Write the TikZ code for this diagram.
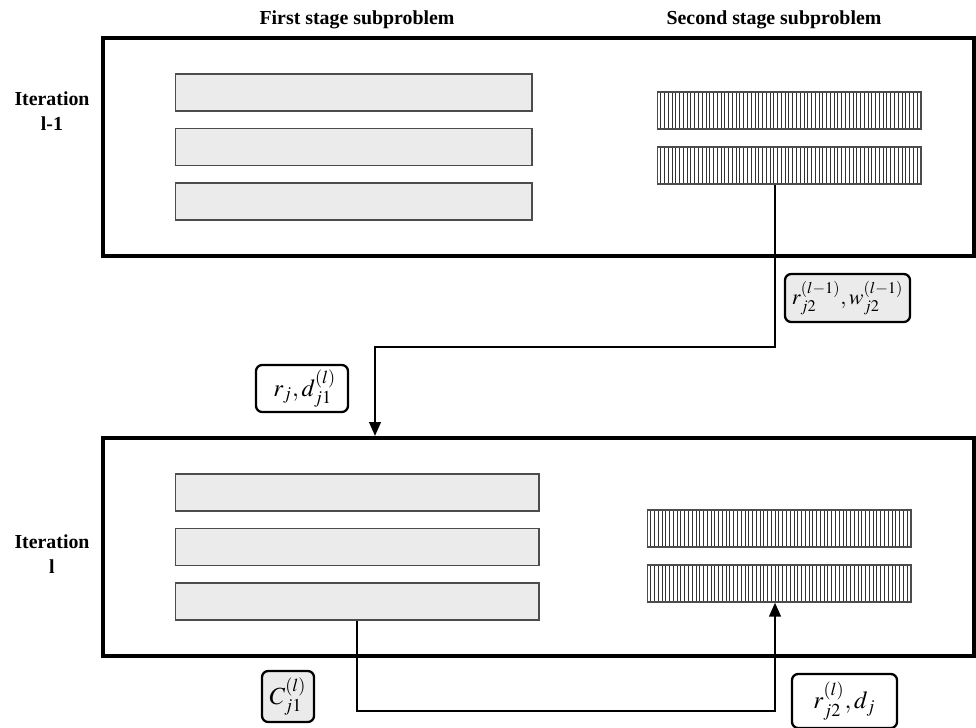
\documentclass[tikz,border=0pt]{standalone}
\usepackage{mathptmx}
\usepackage{fontspec}
\setmainfont{Liberation Serif}
\usetikzlibrary{arrows.meta}

\begin{document}
\begin{tikzpicture}[x=0.02cm, y=-0.02cm,
	frame/.style={draw, line width=2.2pt, minimum width=17.42cm, minimum height=4.36cm, inner sep=0pt},
	bar/.style={draw=black!70, fill=black!8, line width=0.6pt, minimum height=0.74cm, inner sep=0pt},
	hatch/.style={draw=black!70, fill=white, line width=0.6pt, minimum width=5.28cm, minimum height=0.74cm, inner sep=0pt,
		path picture={\foreach \k in {1,...,69} \draw[line width=0.55pt, black!80] ([xshift={\k*0.0754cm}]path picture bounding box.south west) -- ([xshift={\k*0.0754cm}]path picture bounding box.north west);}},
	lab/.style={draw, rounded corners=3.5pt, line width=1.3pt, inner sep=0pt, font=\fontsize{14}{16}\selectfont},
	head/.style={font=\bfseries\fontsize{11.3}{14}\selectfont, align=center},
	conn/.style={line width=1.5pt}]
			\useasboundingbox (0,0) rectangle (976,727);
			
			\node[head] (h1) at (357,20) {First stage subproblem};
			\node[head] (h2) at (774,20) {Second stage subproblem};
			\node[head] (i1) at (52,111) {Iteration\\l-1};
			\node[head] (i2) at (52,554) {Iteration\\l};
			
			\node[frame] (B1) at (538.5,147) {};
			\node[frame] (B2) at (538.5,547) {};
			
			\node[bar, minimum width=7.14cm] (f1) at (353.5,92.5) {};
			\node[bar, minimum width=7.14cm] (f2) at (353.5,147) {};
			\node[bar, minimum width=7.14cm] (f3) at (353.5,201.5) {};
			\node[hatch] (s1) at (789,110.5) {};
			\node[hatch] (s2) at (789,165.5) {};
			
			\node[bar, minimum width=7.28cm] (g1) at (357,492.5) {};
			\node[bar, minimum width=7.28cm] (g2) at (357,547) {};
			\node[bar, minimum width=7.28cm] (g3) at (357,601.5) {};
			\node[hatch] (t1) at (779,528.5) {};
			\node[hatch] (t2) at (779,583.5) {};
			
			\node[lab, fill=black!8, minimum width=2.5cm, minimum height=0.96cm, font=\fontsize{12.5}{15}\selectfont] (m1) at (847.5,298) {$r^{(l-1)}_{j2},w^{(l-1)}_{j2}$};
			\node[lab, fill=white, minimum width=1.84cm, minimum height=0.94cm] (m2) at (302,388.5) {$\;r_j,d^{(l)}_{j1}$};
			\node[lab, fill=black!8, minimum width=1.04cm, minimum height=1.02cm] (m3) at (288,696.5) {$C^{(l)}_{j1}$};
			\node[lab, fill=white, minimum width=2.1cm, minimum height=1.08cm] (m4) at (844.5,701) {$r^{(l)}_{j2},d_j$};
			
			\coordinate (k1) at (775,347);
			\coordinate (k2) at (375,347);
			\coordinate (k3) at (357,711);
			\coordinate (k4) at (775,711);
			
			\draw[conn, -{Triangle[length=8pt, width=6.5pt]}] (s2.south -| k1) -- (k1) -- (k2) -- (k2 |- B2.north);
			\draw[conn, -{Triangle[length=8pt, width=6.5pt]}] (g3.south) -- (k3) -- (k4) -- (k4 |- t2.south);

		\end{tikzpicture}
\end{document}
